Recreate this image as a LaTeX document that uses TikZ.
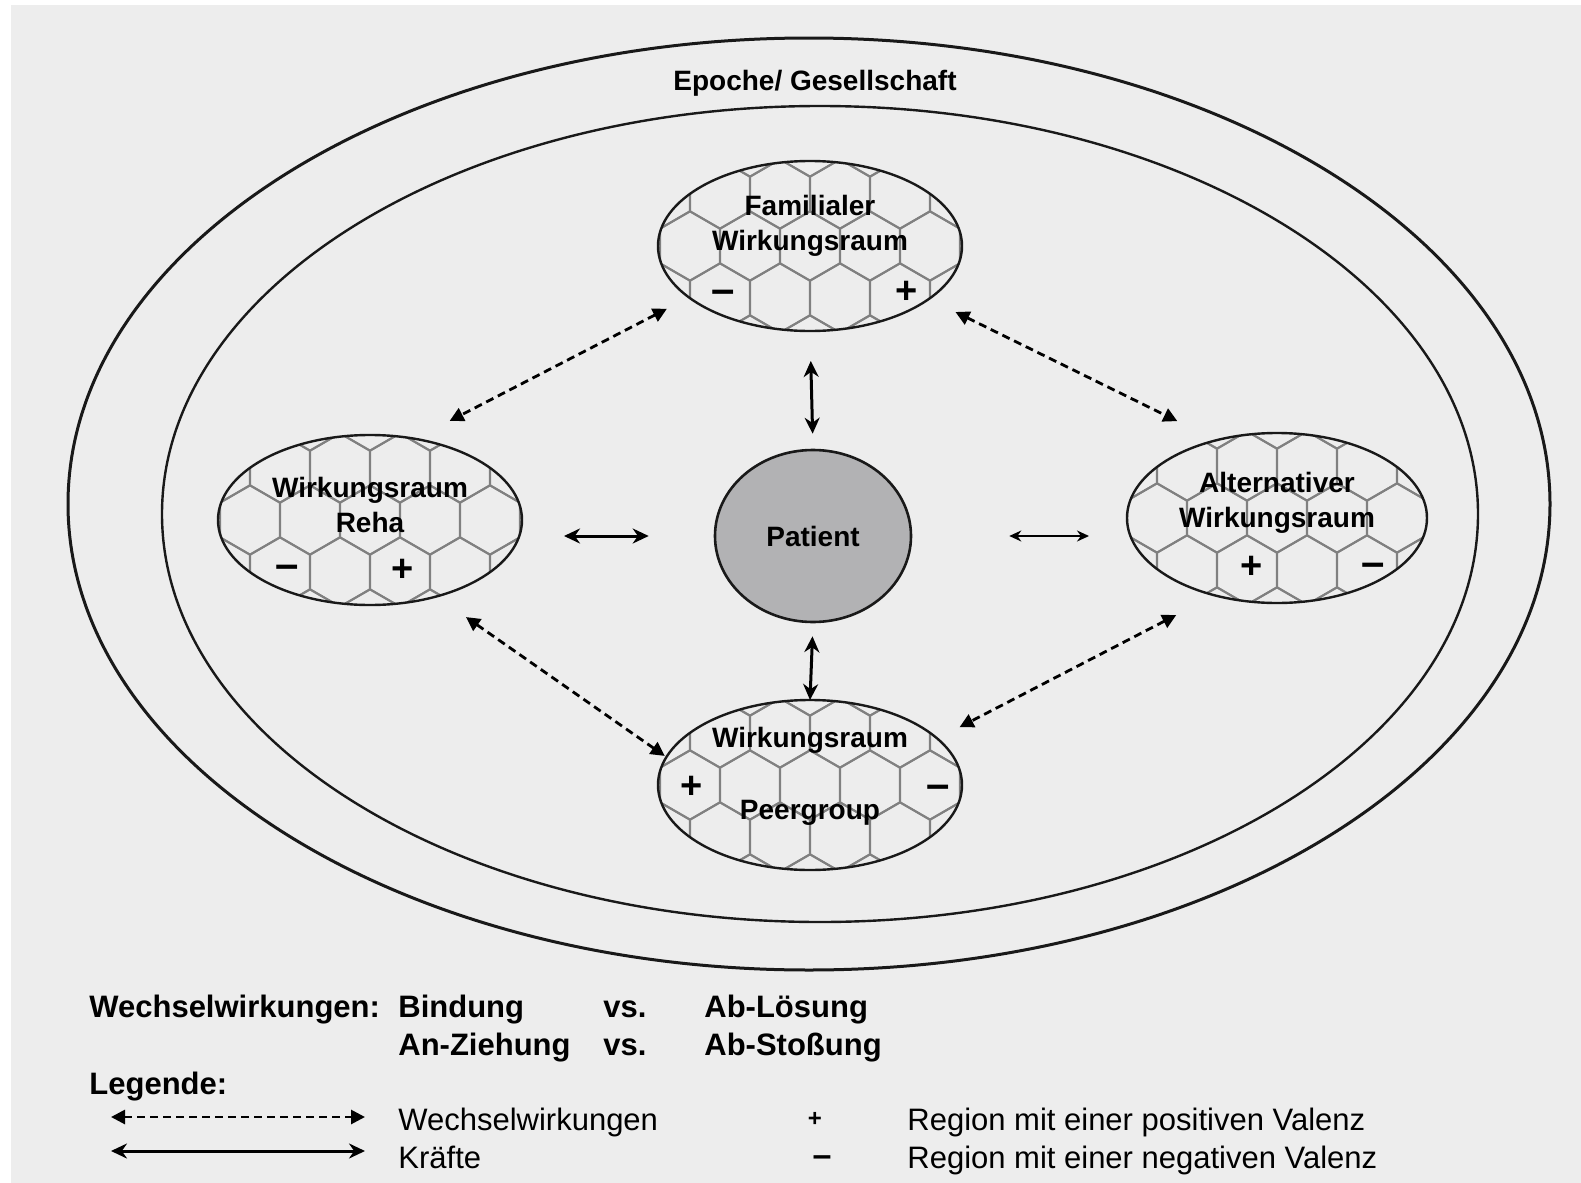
\documentclass[tikz,border=0pt]{standalone}
\usepackage{fontspec}
\setmainfont{Liberation Sans}
\usetikzlibrary{shapes.geometric,arrows.meta,calc}

\definecolor{grund}{RGB}{237,237,237}
\definecolor{wabengrau}{RGB}{128,128,128}
\definecolor{linie}{RGB}{25,25,25}
\definecolor{patgrau}{RGB}{178,178,180}

\newcommand{\waben}{%
  \begin{scope}[shift={(path picture bounding box.center)}]
    \foreach \r in {-2,...,2}
      \foreach \c in {-3,...,3}
        \draw[wabengrau, line width=1pt] ({\c*60+mod(abs(\r),2)*30},{\r*52})
          +(30:34.6) -- +(90:34.6) -- +(150:34.6) -- +(210:34.6) -- +(270:34.6) -- +(330:34.6) -- cycle;
  \end{scope}}

\tikzstyle{ring} = [ellipse, draw=linie, inner sep=0pt, outer sep=0pt]
\tikzstyle{raum} = [ellipse, draw=linie, line width=1.2pt, inner sep=0pt, outer sep=0pt,
  minimum width=152pt, minimum height=85pt, path picture={\waben}]
\tikzstyle{titel} = [font=\fontsize{14}{17.5}\selectfont\bfseries, align=center, inner sep=0pt]
\tikzstyle{zeichen} = [font=\fontsize{19}{19}\selectfont\bfseries, inner sep=0pt]
\tikzstyle{minus} = [font=\fontsize{21}{21}\selectfont\bfseries, inner sep=0pt, yshift=-2.5pt]
\tikzstyle{leg} = [font=\fontsize{15.5}{18}\selectfont\bfseries, anchor=base west, inner sep=0pt]
\tikzstyle{legtext} = [font=\fontsize{15.5}{18}\selectfont, anchor=base west, inner sep=0pt]
\tikzstyle{kraft} = [line width=1.5pt, <->, >={Stealth[length=8pt,width=7.5pt]}]
\tikzstyle{wechsel} = [line width=1.4pt, dash pattern=on 4pt off 2.5pt, <->, >={Triangle[length=7pt,width=7pt]}]

\begin{document}
\begin{tikzpicture}[x=0.5pt, y=-0.5pt]
\useasboundingbox (0,0) rectangle (1581,1183);
\fill[grund] (11,5) rectangle (1581,1183);

\node[ring, line width=1.5pt, minimum width=741pt, minimum height=466pt] (epoche) at (809,504) {};
\node[ring, line width=1.2pt, minimum width=658pt, minimum height=408pt] (gesell) at (820,514) {};
\node[titel] (epocheT) at (815,83) {Epoche/ Gesellschaft};

\node[raum] (fam) at (810,246) {};
\node[raum] (reha) at (370,520) {};
\node[raum, minimum width=150pt] (alt) at (1277,518) {};
\node[raum] (peer) at (810,785) {};
\node[ellipse, draw=linie, line width=1.3pt, fill=patgrau, inner sep=0pt, minimum width=98pt, minimum height=86pt,
  font=\fontsize{14}{17}\selectfont\bfseries] (pat) at (813,536) {Patient};

\node[titel] (famT) at ($(fam)+(0,-20)$) {Familialer\\Wirkungsraum};
\node[titel] (rehaT) at ($(reha)+(0,-15)$) {Wirkungsraum\\Reha};
\node[titel] (altT) at ($(alt)+(0,-15)$) {Alternativer\\Wirkungsraum};
\node[titel] (peerT) at ($(peer)+(0,-45)$) {Wirkungsraum};
\node[titel] (peerU) at ($(peer)+(0,28)$) {Peergroup};

\node[minus] (famM) at ($(fam)+(-87,46)$) {–};
\node[zeichen] (famP) at ($(fam)+(97,46)$) {+};
\node[minus] (rehaM) at ($(reha)+(-83,47)$) {–};
\node[zeichen] (rehaP) at ($(reha)+(33,50)$) {+};
\node[zeichen] (altP) at ($(alt)+(-25,49)$) {+};
\node[minus] (altM) at ($(alt)+(96,47)$) {–};
\node[zeichen] (peerP) at ($(peer)+(-118,2)$) {+};
\node[minus] (peerM) at ($(peer)+(128,2)$) {–};

\draw[kraft, shorten <=7.5pt, shorten >=15pt] (pat.north) -- (fam.south);
\draw[kraft, shorten <=6.5pt] (pat.south) -- (peer.north);
\draw[kraft, shorten <=21pt, shorten >=32.5pt] (reha.east |- pat) -- (pat.west);
\draw[line width=0.8pt, <->, >={Stealth[length=6pt,width=5.5pt]}, shorten <=48.5pt, shorten >=19pt]
  (pat.east) -- (pat.east -| alt.west);

\draw[wechsel, shorten <=12.4pt, shorten >=19.5pt] (fam.203.7) -- (reha.61.5);
\draw[wechsel, shorten <=14.8pt, shorten >=21.7pt] (fam.336.9) -- (alt.128.3);
\draw[wechsel, shorten <=18pt, shorten >=1pt] (reha.311.5) -- (peer.169);
\draw[wechsel, shorten <=21.5pt, shorten >=12.5pt] (alt.231.6) -- (peer.20.8);

\node[leg] (wwk) at (89,1017) {Wechselwirkungen:};
\node[leg] (bind) at (398,1017) {Bindung};
\node[leg] (vs1) at (603,1017) {vs.};
\node[leg] (loes) at (704,1017) {Ab-Lösung};
\node[leg] (zieh) at (398,1055) {An-Ziehung};
\node[leg] (vs2) at (603,1055) {vs.};
\node[leg] (stoss) at (704,1055) {Ab-Stoßung};
\node[leg] (legende) at (89,1094) {Legende:};

\coordinate (lw1) at (111,1117);
\coordinate (lw2) at (365,1117);
\coordinate (lk1) at (111,1151);
\coordinate (lk2) at (365,1151);
\draw[wechsel] (lw1) -- (lw2);
\draw[kraft] (lk1) -- (lk2);
\node[legtext] (lwT) at (398,1130) {Wechselwirkungen};
\node[legtext] (lkT) at (398,1168) {Kräfte};
\node[zeichen, font=\fontsize{12}{12}\selectfont\bfseries] (lP) at (815,1119) {+};
\node[minus, font=\fontsize{17}{17}\selectfont\bfseries, yshift=0.5pt] (lM) at (822,1157) {–};
\node[legtext] (lPT) at (907,1130) {Region mit einer positiven Valenz};
\node[legtext] (lMT) at (907,1168) {Region mit einer negativen Valenz};
\end{tikzpicture}
\end{document}
